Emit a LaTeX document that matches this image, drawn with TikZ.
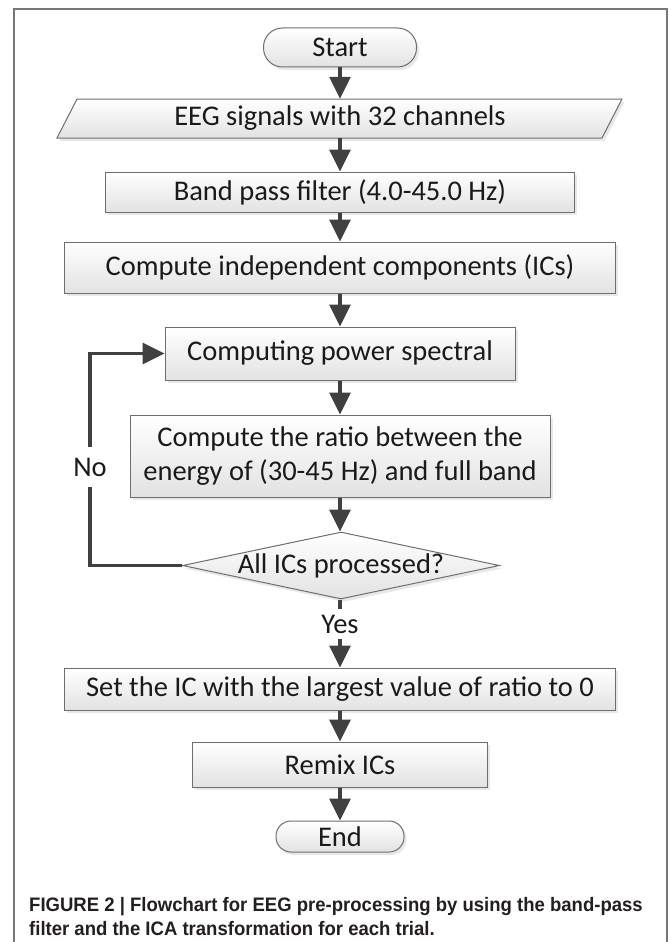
\documentclass[tikz,border=0pt]{standalone}
\usepackage{fontspec}
\setmainfont{Carlito}
\newfontfamily\capfont[FakeStretch=0.95]{Liberation Sans}
\usetikzlibrary{shapes.geometric,arrows.meta,shadows}
\definecolor{arrowc}{HTML}{404040}
\definecolor{edgec}{HTML}{6E6E6E}
\definecolor{framec}{HTML}{777777}
\definecolor{txtc}{HTML}{1A1A1A}
\definecolor{capc}{HTML}{231F20}
\definecolor{fillbot}{HTML}{E2E2E2}
\begin{document}
\begin{tikzpicture}[x=1pt,y=-1pt,
  every node/.style={text=txtc},
  mainfont/.style={font=\fontsize{28.5}{34}\selectfont},
  boxshape/.style={draw=edgec, line width=1pt, top color=white, bottom color=fillbot,
    drop shadow={opacity=0.18, shadow xshift=2.5pt, shadow yshift=-3pt}},
  procbox/.style={boxshape, rectangle, inner sep=0pt, mainfont, align=center},
  flow/.style={draw=arrowc, line width=3.2pt, -{Triangle[length=22pt,width=21pt]}},
  edgelabel/.style={fill=white, mainfont, inner xsep=3pt},
  captext/.style={anchor=base west, inner sep=0pt, text=capc,
    font=\capfont\bfseries\fontsize{19.5}{24}\selectfont}
]
\useasboundingbox (0,0) rectangle (670,942);
\fill[white] (0,0) rectangle (670,942);

% frame (open at the bottom)
\draw[framec, line width=1.2pt] (14,942) -- (14,9) -- (667,9) -- (667,942);

% nodes
\node[procbox, rounded corners=19pt, minimum width=153pt, minimum height=39pt] (start) at (340,47.5) {Start};

\path[boxshape] (77,99) -- (622,99) -- (602,138) -- (57,138) -- cycle;
\node[inner sep=0pt, mainfont, minimum width=525pt, minimum height=39pt] (eeg) at (340,118.5) {EEG signals with 32 channels};

\node[procbox, minimum width=469pt, minimum height=40pt] (band) at (340,192) {Band pass filter (4.0-45.0 Hz)};
\node[procbox, minimum width=551pt, minimum height=51pt] (ics) at (340,267.5) {Compute independent components (ICs)};
\node[procbox, minimum width=350pt, minimum height=53pt] (power) at (340,353.5) {Computing power spectral};
\node[procbox, minimum width=420pt, minimum height=82pt] (ratio) at (340,456) {Compute the ratio between the\\energy of (30-45 Hz) and full band};
\node[boxshape, diamond, aspect=4.73, inner sep=0pt, mainfont, minimum width=317pt, minimum height=67pt] (dec) at (341,565.5) {\makebox[0pt]{All ICs processed?}};
\node[procbox, minimum width=551pt, minimum height=42pt] (setic) at (340,689) {Set the IC with the largest value of ratio to 0};
\node[procbox, minimum width=295pt, minimum height=45pt] (remix) at (340,764.5) {Remix ICs};
\node[procbox, rounded corners=15pt, minimum width=128pt, minimum height=31pt] (end) at (340,836.5) {End};

% connectors
\draw[flow] (start) -- (eeg);
\draw[flow] (eeg) -- (band);
\draw[flow] (band) -- (ics);
\draw[flow] (ics) -- (power);
\draw[flow] (power) -- (ratio);
\draw[flow] (ratio.south) -- (ratio.south |- dec.north);
\draw[flow] (ratio.south |- dec.south) -- (setic.north);
\draw[flow] (setic) -- (remix);
\draw[flow] (remix) -- (end);

\coordinate (loopc) at (90,460);
\draw[flow] (dec.west) -| (loopc) |- (power.west);

\node[edgelabel, inner ysep=11pt] (no) at (90,467) {No};
\node[edgelabel, inner ysep=6pt] (yes) at (340,624) {Yes};

% caption
\node[captext] (cap1) at (29,911) {FIGURE 2 | Flowchart for EEG pre-processing by using the band-pass};
\node[captext] (cap2) at (29,935) {filter and the ICA transformation for each trial.};
\end{tikzpicture}
\end{document}
